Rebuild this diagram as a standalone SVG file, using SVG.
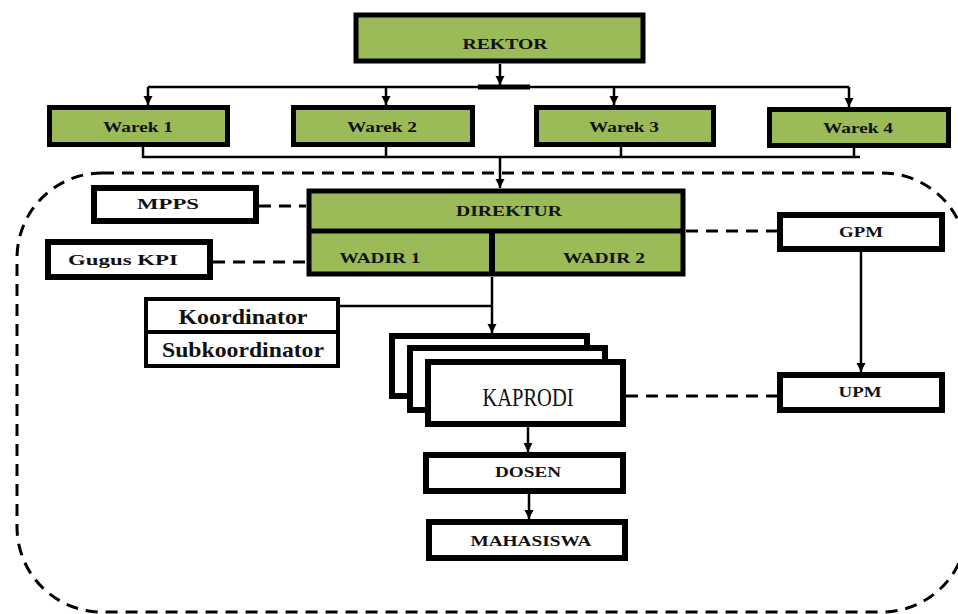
<svg xmlns="http://www.w3.org/2000/svg" width="958" height="614" viewBox="0 0 958 614">
<style>
.g{fill:#9BBB59;stroke:#000;stroke-width:5}
.w{fill:#fff;stroke:#000;stroke-width:6}
.t{font-family:"Liberation Serif",serif;font-weight:bold;font-size:15px;fill:#111;text-anchor:middle}
.ln{stroke:#000;stroke-width:2.5;fill:none}
.ds{stroke:#000;stroke-width:3;fill:none;stroke-dasharray:12 8}
</style>
<defs>
<marker id="ah" viewBox="0 0 10 10" refX="10" refY="5" markerWidth="9" markerHeight="11" markerUnits="userSpaceOnUse" orient="auto">
<path d="M0,0 L10,5 L0,10 z" fill="#000"/>
</marker>
</defs>
<rect width="958" height="614" fill="#fff"/>
<rect x="17" y="173" width="950" height="439" rx="85" ry="85" class="ds"/>
<g id="connectors">
<line x1="500" y1="64" x2="500" y2="85" class="ln" marker-end="url(#ah)"/>
<line x1="478" y1="87" x2="530" y2="87" stroke="#000" stroke-width="5"/>
<line x1="148" y1="87" x2="849" y2="87" class="ln"/>
<line x1="148" y1="87" x2="148" y2="105" class="ln" marker-end="url(#ah)"/>
<line x1="386" y1="87" x2="386" y2="105" class="ln" marker-end="url(#ah)"/>
<line x1="614" y1="87" x2="614" y2="105" class="ln" marker-end="url(#ah)"/>
<line x1="849" y1="87" x2="849" y2="107" class="ln" marker-end="url(#ah)"/>
<polyline points="143,147 143,157 860,157" class="ln"/>
<line x1="386" y1="147" x2="386" y2="157" class="ln"/>
<line x1="621" y1="147" x2="621" y2="157" class="ln"/>
<line x1="854" y1="148" x2="854" y2="157" class="ln"/>
<line x1="500" y1="157" x2="500" y2="188" class="ln" marker-end="url(#ah)"/>
<line x1="259" y1="206" x2="306" y2="206" class="ds"/>
<line x1="213" y1="262" x2="306" y2="262" class="ds"/>
<line x1="686" y1="231" x2="777" y2="231" class="ds"/>
<line x1="626" y1="396" x2="777" y2="396" class="ds"/>
<line x1="340" y1="306" x2="492" y2="306" class="ln"/>
<line x1="492" y1="277" x2="492" y2="333" class="ln" marker-end="url(#ah)"/>
<line x1="861" y1="252" x2="861" y2="372" class="ln" marker-end="url(#ah)"/>
<line x1="528" y1="427" x2="528" y2="452" class="ln" marker-end="url(#ah)"/>
<line x1="529" y1="494" x2="529" y2="519" class="ln" marker-end="url(#ah)"/>
</g>
<g id="rektor">
<rect x="356" y="15" width="287" height="46" class="g" stroke-width="6"/>
<text x="505" y="49" class="t" textLength="85" lengthAdjust="spacingAndGlyphs">REKTOR</text>
</g>
<g id="warek1">
<rect x="49.5" y="107.5" width="178" height="37" class="g"/>
<text x="138" y="132" class="t" textLength="70" lengthAdjust="spacingAndGlyphs">Warek 1</text>
</g>
<g id="warek2">
<rect x="293.5" y="107.5" width="179" height="37" class="g"/>
<text x="382" y="132" class="t" textLength="70" lengthAdjust="spacingAndGlyphs">Warek 2</text>
</g>
<g id="warek3">
<rect x="536.5" y="107.5" width="177" height="37" class="g"/>
<text x="624" y="132" class="t" textLength="70" lengthAdjust="spacingAndGlyphs">Warek 3</text>
</g>
<g id="warek4">
<rect x="769.5" y="109.5" width="179" height="36" class="g"/>
<text x="858" y="133" class="t" textLength="70" lengthAdjust="spacingAndGlyphs">Warek 4</text>
</g>
<g id="direktur">
<rect x="309" y="191" width="374" height="83" class="g" stroke-width="6"/>
<line x1="309" y1="231" x2="683" y2="231" stroke="#000" stroke-width="5"/>
<line x1="492" y1="231" x2="492" y2="274" stroke="#000" stroke-width="6"/>
<text x="509" y="216" class="t" textLength="106" lengthAdjust="spacingAndGlyphs">DIREKTUR</text>
</g>
<g id="wadir1">
<text x="380" y="263" class="t" textLength="81" lengthAdjust="spacingAndGlyphs">WADIR 1</text>
</g>
<g id="wadir2">
<text x="604" y="263" class="t" textLength="82" lengthAdjust="spacingAndGlyphs">WADIR 2</text>
</g>
<g id="mpps">
<rect x="94" y="188" width="162" height="33" class="w"/>
<text x="168" y="209" class="t" textLength="62" lengthAdjust="spacingAndGlyphs">MPPS</text>
</g>
<g id="gugus-kpi">
<rect x="48" y="242" width="162" height="35" class="w"/>
<text x="123" y="265" class="t" textLength="110" lengthAdjust="spacingAndGlyphs">Gugus KPI</text>
</g>
<g id="koordinator">
<rect x="146" y="299" width="192" height="67" fill="#fff" stroke="#000" stroke-width="4"/>
<line x1="146" y1="332" x2="338" y2="332" stroke="#000" stroke-width="4"/>
<text x="243" y="324" class="t" style="font-size:22px" textLength="129" lengthAdjust="spacingAndGlyphs">Koordinator</text>
<text x="243" y="357" class="t" style="font-size:22px" textLength="162" lengthAdjust="spacingAndGlyphs">Subkoordinator</text>
</g>
<g id="gpm">
<rect x="780" y="215" width="162" height="34" class="w"/>
<text x="861" y="237" class="t" textLength="44" lengthAdjust="spacingAndGlyphs">GPM</text>
</g>
<g id="upm">
<rect x="780" y="375" width="162" height="35" class="w"/>
<text x="860" y="397" class="t" textLength="43" lengthAdjust="spacingAndGlyphs">UPM</text>
</g>
<g id="kaprodi">
<rect x="392" y="336" width="195" height="60" class="w"/>
<rect x="410" y="348" width="195" height="62" class="w"/>
<rect x="428" y="362" width="195" height="62" class="w"/>
<text x="528" y="406" style="font-family:'Liberation Serif',serif;font-size:25px;fill:#111;text-anchor:middle" textLength="91" lengthAdjust="spacingAndGlyphs">KAPRODI</text>
</g>
<g id="dosen">
<rect x="426" y="455" width="197" height="36" class="w"/>
<text x="528" y="477" class="t" textLength="66" lengthAdjust="spacingAndGlyphs">DOSEN</text>
</g>
<g id="mahasiswa">
<rect x="429" y="522" width="196" height="36" class="w"/>
<text x="531" y="546" class="t" textLength="121" lengthAdjust="spacingAndGlyphs">MAHASISWA</text>
</g>
</svg>
